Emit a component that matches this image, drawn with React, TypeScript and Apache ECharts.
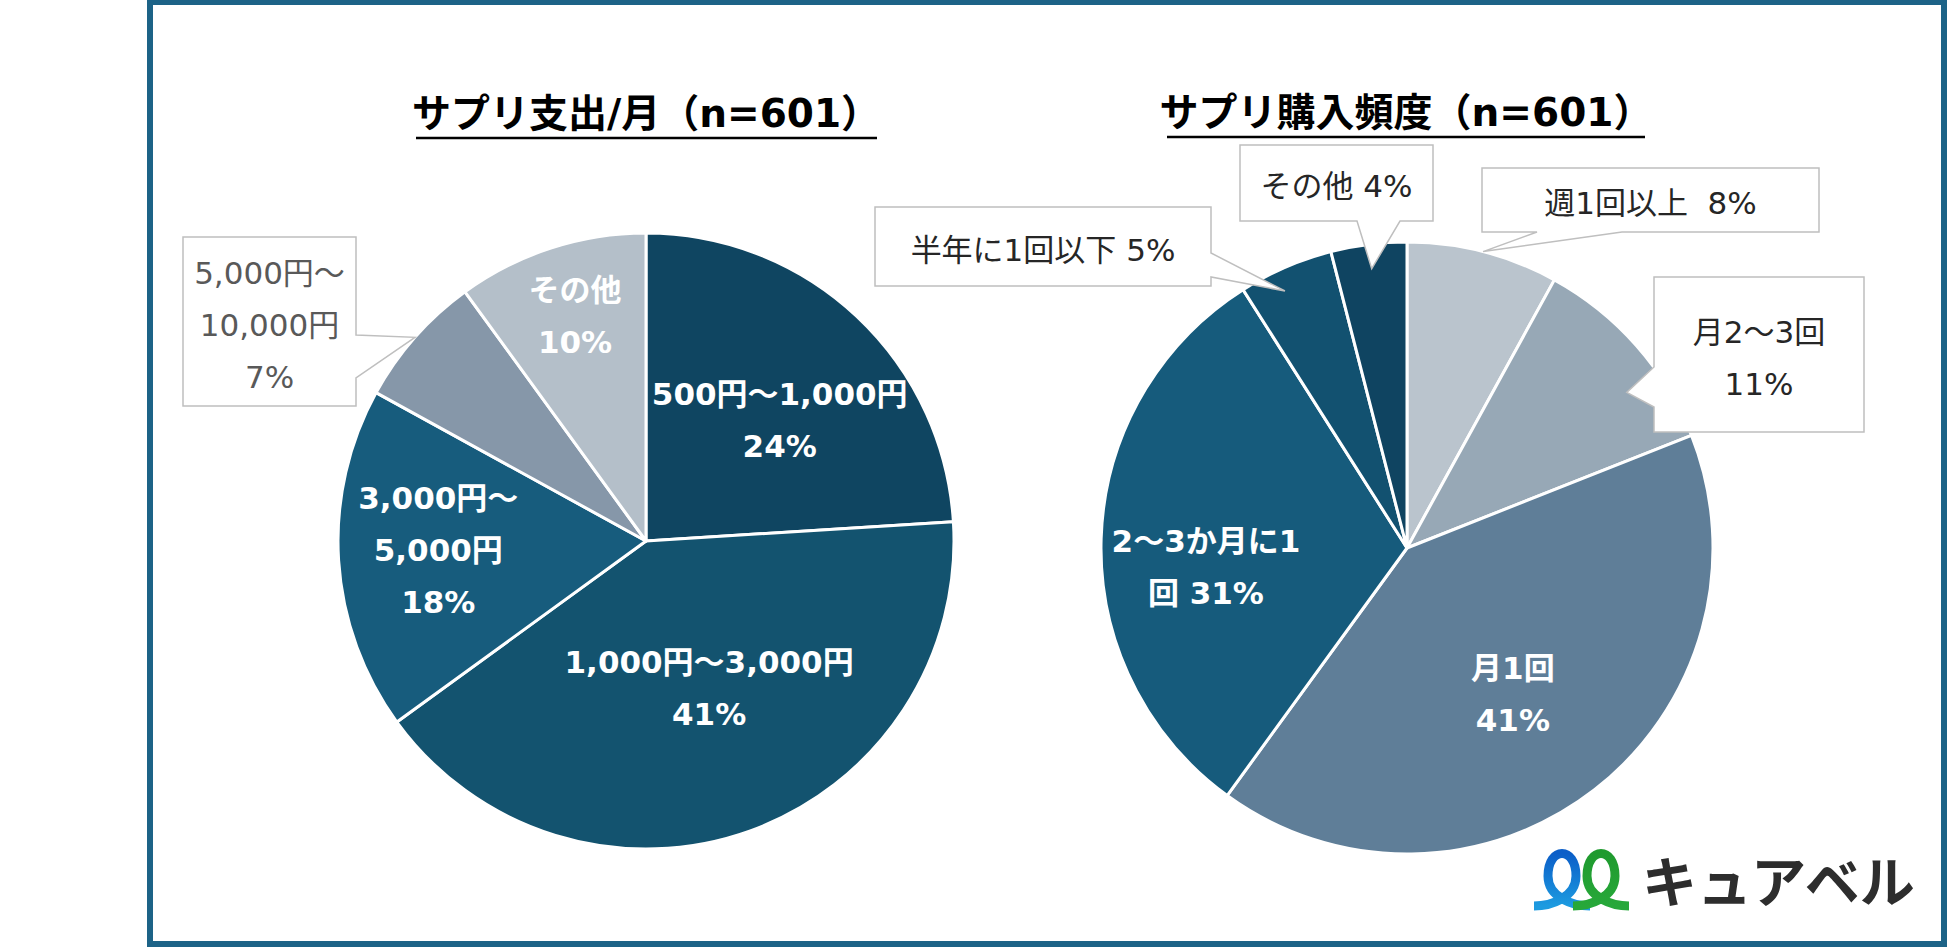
import React, { useEffect, useRef } from "react";
import * as echarts from "echarts";

// ---- data ----
const spendTitle = "サプリ支出/月（n=601）";
const spendCategories = ["500円〜1,000円", "1,000円〜3,000円", "3,000円〜\n5,000円", "5,000円〜\n10,000円", "その他"];
const spendValues = [24, 41, 18, 7, 10];
const spendSeparators = ["\n", "\n", "\n", "\n", "\n"];

const freqTitle = "サプリ購入頻度（n=601）";
const freqCategories = ["週1回以上", "月2〜3回", "月1回", "2〜3か月に1\n回", "半年に1回以下", "その他"];
const freqValues = [8, 11, 41, 31, 5, 4];
const freqSeparators = ["  ", "\n", "\n", " ", " ", " "];

const brandName = "キュアベル";

// ---- styles / layout ----
const FONT = "'DejaVu Sans', 'Noto Sans CJK JP', sans-serif";
const CJK_FONT = "'Noto Sans CJK JP', sans-serif";
const spendColors = ["#0f4561", "#13536f", "#175c7d", "#8697a9", "#b4bfc9"];
const freqColors = ["#bac4cd", "#97a8b6", "#5f7e98", "#165b7c", "#125170", "#0f4461"];

const spendPie = { center: [646, 541], radius: 308 };
const freqPie = { center: [1407, 548], radius: 306 };

// inside-label placement: [radius fraction, angular shift from slice middle in degrees]
const spendInnerLabel: (number[] | null)[] = [[0.585, 4.7], [0.52, -3.4], [0.675, 1.1], null, [0.766, 0.5]];
const freqInnerLabel: (number[] | null)[] = [null, null, [0.59, 1.9], [0.66, -7.2], null, null];

type Callout = { index: number; box: number[]; side: string; base: number[]; tip: number[]; color: string };
const spendCallouts: Callout[] = [
  { index: 3, box: [183, 237, 173, 169], side: "right", base: [335, 378], tip: [1.0, 0], color: "#595959" },
];
const freqCallouts: Callout[] = [
  { index: 0, box: [1482, 168, 337, 64], side: "bottom", base: [1537, 1622], tip: [1.0, 0], color: "#262626" },
  { index: 1, box: [1654, 277, 210, 155], side: "left", base: [367, 407], tip: [0.88, 6.1], color: "#262626" },
  { index: 4, box: [875, 207, 336, 79], side: "right", base: [253, 277], tip: [0.93, -2], color: "#262626" },
  { index: 5, box: [1240, 145, 193, 76], side: "bottom", base: [1357, 1400], tip: [0.92, 0], color: "#262626" },
];

// brand mark: one looped stroke, drawn twice
const LOOP_D = "M -28 0 C -12 0 14 -8 14 -30 C 14 -60 -14 -60 -14 -30 C -14 -8 12 0 28 0";
echarts.graphic.registerShape("brandLoop", echarts.graphic.extendPath(LOOP_D, {}));

function sliceSpans(values: number[]) {
  const total = values.reduce((a, b) => a + b, 0);
  let acc = 0;
  return values.map((v) => {
    const a0 = (acc / total) * 360;
    acc += v;
    return [a0, (acc / total) * 360];
  });
}

function polar(c: number[], r: number, deg: number) {
  const t = (deg * Math.PI) / 180;
  return [c[0] + r * Math.sin(t), c[1] - r * Math.cos(t)];
}

function calloutPoints(box: number[], side: string, base: number[], tip: number[]) {
  const [x, y, w, h] = box;
  const r = x + w;
  const b = y + h;
  if (side === "right") return [[x, y], [r, y], [r, base[0]], tip, [r, base[1]], [r, b], [x, b]];
  if (side === "left") return [[x, y], [r, y], [r, b], [x, b], [x, base[1]], tip, [x, base[0]]];
  return [[x, y], [r, y], [r, b], [base[1], b], tip, [base[0], b], [x, b]];
}

function buildPie(
  pie: { center: number[]; radius: number },
  categories: string[],
  values: number[],
  colors: string[],
  separators: string[],
  placements: (number[] | null)[]
) {
  const spans = sliceSpans(values);
  return {
    type: "pie",
    center: pie.center,
    radius: pie.radius,
    startAngle: 90,
    clockwise: true,
    silent: true,
    avoidLabelOverlap: false,
    emphasis: { disabled: true },
    itemStyle: { borderColor: "#ffffff", borderWidth: 3 },
    labelLine: { show: false },
    label: {
      position: "inside",
      color: "#ffffff",
      fontSize: 31,
      fontWeight: "bold",
      fontFamily: FONT,
      lineHeight: 52,
      formatter: (p: any) => `${p.name}${separators[p.dataIndex]}${p.value}%`,
    },
    labelLayout: (params: any) => {
      const place = placements[params.dataIndex];
      if (!place) return {};
      const [a0, a1] = spans[params.dataIndex];
      const [lx, ly] = polar(pie.center, pie.radius * place[0], (a0 + a1) / 2 + place[1]);
      return { x: lx, y: ly, align: "center", verticalAlign: "middle" };
    },
    data: values.map((v, i) => ({
      value: v,
      name: categories[i],
      itemStyle: { color: colors[i] },
      label: { show: placements[i] != null },
    })),
  };
}

function buildCallouts(
  pie: { center: number[]; radius: number },
  callouts: Callout[],
  categories: string[],
  values: number[],
  separators: string[]
) {
  const spans = sliceSpans(values);
  const els: any[] = [];
  callouts.forEach((c) => {
    const [a0, a1] = spans[c.index];
    const tip = polar(pie.center, pie.radius * c.tip[0], (a0 + a1) / 2 + c.tip[1]);
    els.push({
      type: "polygon",
      z: 10,
      silent: true,
      shape: { points: calloutPoints(c.box, c.side, c.base, tip) },
      style: { fill: "#ffffff", stroke: "#bfbfbf", lineWidth: 1.5 },
    });
    els.push({
      type: "text",
      z: 11,
      silent: true,
      x: c.box[0] + c.box[2] / 2,
      y: c.box[1] + c.box[3] / 2 + 3,
      style: {
        text: `${categories[c.index]}${separators[c.index]}${values[c.index]}%`,
        fill: c.color,
        font: `normal 31px ${FONT}`,
        fontSize: 31,
        fontFamily: FONT,
        lineHeight: 52,
        align: "center",
        verticalAlign: "middle",
      },
    });
  });
  return els;
}

export default function App() {
  const ref = useRef<HTMLDivElement>(null);

  useEffect(() => {
    if (!ref.current) return;
    const chart = echarts.init(ref.current, undefined, { renderer: "svg" });

    const titleStyle = { fontSize: 39, fontWeight: "bold", color: "#000000", fontFamily: FONT };

    const option: any = {
      animation: false,
      backgroundColor: "#ffffff",
      textStyle: { fontFamily: FONT },
      title: [
        { text: spendTitle, left: spendPie.center[0], top: 94, textAlign: "center", padding: 0, textStyle: titleStyle },
        { text: freqTitle, left: freqPie.center[0] - 1, top: 93, textAlign: "center", padding: 0, textStyle: titleStyle },
      ],
      series: [
        buildPie(spendPie, spendCategories, spendValues, spendColors, spendSeparators, spendInnerLabel),
        buildPie(freqPie, freqCategories, freqValues, freqColors, freqSeparators, freqInnerLabel),
      ],
      graphic: [
        {
          type: "rect",
          z: 0,
          silent: true,
          shape: { x: 150, y: 2, width: 1794, height: 942 },
          style: { fill: "none", stroke: "#1d6387", lineWidth: 6 },
        },
        {
          type: "line",
          z: 5,
          silent: true,
          shape: { x1: 416, y1: 138, x2: 877, y2: 138 },
          style: { stroke: "#000000", lineWidth: 2.5 },
        },
        {
          type: "line",
          z: 5,
          silent: true,
          shape: { x1: 1167, y1: 137, x2: 1645, y2: 137 },
          style: { stroke: "#000000", lineWidth: 2.5 },
        },
        ...buildCallouts(spendPie, spendCallouts, spendCategories, spendValues, spendSeparators),
        ...buildCallouts(freqPie, freqCallouts, freqCategories, freqValues, freqSeparators),
        {
          type: "brandLoop",
          z: 12,
          silent: true,
          x: 1562,
          y: 906,
          style: {
            fill: "none",
            lineWidth: 9,
            stroke: new echarts.graphic.LinearGradient(0, 0, 0, 1, [
              { offset: 0, color: "#0b5ec8" },
              { offset: 1, color: "#1d9be0" },
            ]),
          },
        },
        {
          type: "brandLoop",
          z: 13,
          silent: true,
          x: 1601,
          y: 906,
          style: {
            fill: "none",
            lineWidth: 9,
            stroke: new echarts.graphic.LinearGradient(0, 0, 0, 1, [
              { offset: 0, color: "#1f9a2e" },
              { offset: 1, color: "#27a83a" },
            ]),
          },
        },
        {
          type: "text",
          z: 12,
          silent: true,
          x: 1642,
          y: 878,
          style: {
            text: brandName,
            fill: "#2d2d2d",
            font: `bold 55px ${CJK_FONT}`,
            fontSize: 55,
            fontWeight: "bold",
            fontFamily: CJK_FONT,
            align: "left",
            verticalAlign: "middle",
          },
        },
      ],
    };

    chart.setOption(option);
    return () => {
      chart.dispose();
    };
  }, []);

  return (
    <div
      ref={ref}
      style={{ position: "fixed", left: 0, top: 0, width: 1950, height: 948, background: "#ffffff" }}
    />
  );
}
